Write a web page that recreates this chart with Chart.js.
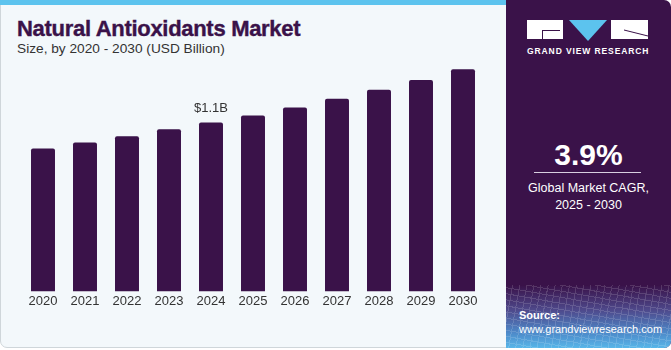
<!DOCTYPE html>
<html>
<head>
<meta charset="utf-8">
<script src="https://cdn.jsdelivr.net/npm/chart.js@4"></script>
<style>
html,body{margin:0;padding:0;width:671px;height:350px;overflow:hidden;background:#ffffff;font-family:"Liberation Sans",Arial,sans-serif;}
#left{position:absolute;left:0;top:0;width:520px;height:348px;background:#f3f8fb;border:1px solid #cfd6da;border-radius:0 0 0 7px;box-sizing:border-box;}
#strip{position:absolute;left:0;top:0;width:520px;height:5px;background:#5cc3ee;}
#right{position:absolute;left:506px;top:0;width:165px;height:348px;background:#3a1249;border-radius:0 7px 7px 0;overflow:hidden;}
#rbot{position:absolute;left:0;top:285px;width:165px;height:63px;background:linear-gradient(180deg,#3a1249 0%,#4f4a8c 40%,#4d88c8 75%,#59b7e9 100%);}
#mesh{position:absolute;left:0;top:0;width:165px;height:63px;opacity:0.14;background:repeating-linear-gradient(100deg,transparent 0 6px,#ffffff 6px 7px),repeating-linear-gradient(10deg,transparent 0 5px,#ffffff 5px 6px);}
#title{position:absolute;left:17px;top:16px;font-size:22px;font-weight:bold;color:#3a1249;letter-spacing:-0.3px;white-space:nowrap;-webkit-text-stroke:0.4px #3a1249;}
#sub{position:absolute;left:17px;top:41px;font-size:13.7px;color:#333;white-space:nowrap;}
#chartbox{position:absolute;left:0;top:0;width:506px;height:350px;}
.w{position:absolute;background:#fff;}
#logotext{position:absolute;left:21px;top:46px;width:122px;text-align:center;font-size:8.5px;font-weight:bold;color:#fff;letter-spacing:0.9px;white-space:nowrap;}
#cagr{position:absolute;left:0;top:138px;width:165px;text-align:center;font-size:30px;font-weight:bold;color:#fff;}
#line{position:absolute;left:28px;top:172px;width:107px;height:1px;background:#d8cfe0;}
#cagrt{position:absolute;left:0;top:180px;width:165px;text-align:center;font-size:12.5px;color:#fff;line-height:17px;}
#src{position:absolute;left:13px;top:308px;font-size:11px;color:#fff;line-height:14px;white-space:nowrap;}
</style>
</head>
<body>
<div id="left"></div>
<div id="strip"></div>
<div id="title">Natural Antioxidants Market</div>
<div id="sub">Size, by 2020 - 2030 (USD Billion)</div>
<div id="chartbox"><canvas id="c" width="506" height="350"></canvas></div>
<div id="right">
  <div class="w" style="left:21px;top:20px;width:36px;height:19px;"></div>
  <div style="position:absolute;left:36px;top:30px;width:18px;height:1px;background:#3a1249;"></div>
  <div style="position:absolute;left:36px;top:30px;width:1px;height:9px;background:#3a1249;"></div>
  <svg style="position:absolute;left:63px;top:20px;" width="38" height="21"><polygon points="0,0 38,0 19,21" fill="#5cc3ee"/></svg>
  <div class="w" style="left:105px;top:20px;width:37px;height:19px;"></div>
  <svg style="position:absolute;left:105px;top:20px;" width="37" height="19"><line x1="13" y1="10" x2="37" y2="16" stroke="#3a1249" stroke-width="1"/></svg>
  <div id="logotext">GRAND VIEW RESEARCH</div>
  <div id="cagr">3.9%</div>
  <div id="line"></div>
  <div id="cagrt">Global Market CAGR,<br>2025 - 2030</div>
  <div id="rbot"><div id="mesh"></div></div>
  <div id="src"><b>Source:</b><br>www.grandviewresearch.com</div>
</div>
<script>
const years = ["2020","2021","2022","2023","2024","2025","2026","2027","2028","2029","2030"];
const marketSize = [0.93, 0.97, 1.01, 1.055, 1.10, 1.145, 1.197, 1.255, 1.313, 1.376, 1.447];
const labelIndex = 4;
const labelText = "$1.1B";

const labelPlugin = {
  id: 'barLabel',
  afterDatasetsDraw(chart) {
    const meta = chart.getDatasetMeta(0);
    const bar = meta.data[labelIndex];
    const ctx = chart.ctx;
    ctx.save();
    ctx.font = '13px "Liberation Sans", Arial, sans-serif';
    ctx.fillStyle = '#333333';
    ctx.textAlign = 'center';
    ctx.textBaseline = 'bottom';
    ctx.fillText(labelText, bar.x, bar.y - 8);
    ctx.restore();
  }
};

new Chart(document.getElementById('c'), {
  type: 'bar',
  data: {
    labels: years,
    datasets: [{
      data: marketSize,
      backgroundColor: '#3a1249',
      borderRadius: {topLeft: 2, topRight: 2, bottomLeft: 0, bottomRight: 0},
      borderSkipped: 'bottom',
      categoryPercentage: 1,
      barPercentage: 0.571
    }]
  },
  options: {
    responsive: false,
    animation: false,
    layout: {padding: {left: 22, right: 22, top: 61, bottom: 39}},
    plugins: {legend: {display: false}, tooltip: {enabled: false}},
    scales: {
      x: {
        grid: {display: false, drawTicks: false},
        border: {display: false},
        ticks: {color: '#333333', padding: 2, font: {size: 13, family: '"Liberation Sans", Arial, sans-serif'}}
      },
      y: {display: false, min: 0, max: 1.5}
    }
  },
  plugins: [labelPlugin]
});
</script>
</body>
</html>
